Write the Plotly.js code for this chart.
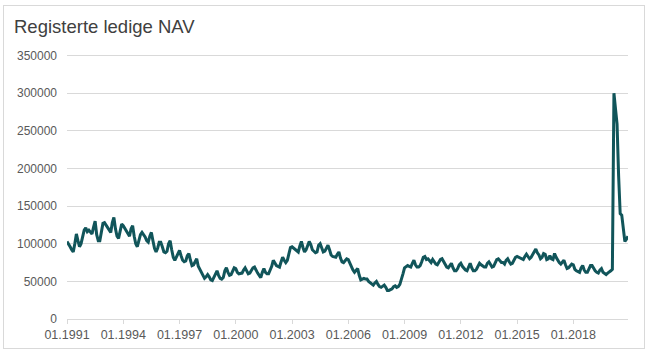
<!DOCTYPE html>
<html>
<head>
<meta charset="utf-8">
<script src="https://cdn.plot.ly/plotly-3.0.1.min.js"></script>
<style>
  html, body { margin: 0; padding: 0; background: #ffffff; }
  #frame { position: absolute; left: 3px; top: 5px; width: 642px; height: 344px; border: 1px solid #d9d9d9; box-sizing: border-box; }
  #chart { position: absolute; left: 0; top: 0; width: 652px; height: 352px; }
</style>
</head>
<body>
<div id="frame"></div>
<div id="chart"></div>
<script>
// Registered unemployed (NAV), monthly, values in thousands, 01.1991 - 12.2020
const startYear = 1991;
const y1991 = [103, 100, 96, 92, 89, 100, 113, 104, 96, 100, 108, 118];
const y1992 = [121, 116, 118, 116, 113, 122, 130, 112, 104, 104, 114, 127];
const y1993 = [128, 125, 122, 118, 115, 128, 135, 120, 110, 107, 115, 126];
const y1994 = [124, 120, 118, 112, 110, 120, 124, 110, 100, 96, 104, 112];
const y1995 = [115, 112, 109, 104, 102, 110, 115, 104, 94, 89, 94, 102];
const y1996 = [102, 96, 89, 88, 90, 100, 104, 92, 82, 78, 82, 88];
const y1997 = [91, 84, 78, 76, 77, 84, 87, 78, 71, 72, 76, 80];
const y1998 = [70, 66, 62, 58, 54, 56, 59, 56, 52, 51, 55, 60];
const y1999 = [64, 58, 54, 53, 55, 64, 68, 62, 58, 59, 63, 68];
const y2000 = [67, 62, 60, 60, 61, 65, 68, 64, 60, 61, 64, 68];
const y2001 = [69, 64, 61, 58, 55, 62, 67, 62, 60, 60, 64, 70];
const y2002 = [78, 74, 71, 70, 69, 76, 82, 78, 75, 78, 86, 95];
const y2003 = [96, 94, 93, 91, 89, 97, 103, 95, 89, 92, 98, 103];
const y2004 = [99, 92, 90, 88, 89, 98, 100, 94, 89, 90, 94, 98];
const y2005 = [92, 85, 83, 82, 82, 86, 89, 81, 76, 75, 78, 80];
const y2006 = [79, 74, 69, 65, 62, 64, 67, 58, 52, 53, 54, 53];
const y2007 = [53, 50, 48, 46, 45, 48, 50, 46, 43, 42, 43, 45];
const y2008 = [42, 38, 38, 39, 40, 43, 44, 42, 43, 46, 52, 60];
const y2009 = [68, 70, 71, 70, 69, 74, 78, 72, 69, 69, 71, 76];
const y2010 = [82, 83, 79, 80, 77, 75, 79, 76, 73, 72, 75, 79];
const y2011 = [80, 76, 72, 69, 68, 72, 74, 68, 64, 64, 67, 72];
const y2012 = [74, 70, 67, 65, 64, 70, 74, 68, 64, 64, 66, 70];
const y2013 = [74, 72, 70, 69, 69, 74, 76, 72, 69, 70, 74, 79];
const y2014 = [80, 77, 75, 75, 73, 78, 80, 76, 73, 74, 78, 82];
const y2015 = [83, 82, 82, 80, 79, 83, 86, 83, 80, 82, 86, 91];
const y2016 = [93, 88, 85, 80, 82, 87, 86, 79, 80, 84, 80, 79];
const y2017 = [87, 82, 78, 75, 73, 76, 78, 72, 67, 68, 70, 73];
const y2018 = [72, 66, 64, 63, 62, 68, 71, 65, 62, 62, 66, 71];
const y2019 = [71, 67, 64, 62, 61, 65, 67, 62, 60, 59, 61, 62];
const y2020 = [64, 66, 300, 279, 259, 190, 140, 138, 121, 103, 106, 110];

const tickLabels = ["01.1991", "01.1994", "01.1997", "01.2000", "01.2003", "01.2006", "01.2009", "01.2012", "01.2015", "01.2018"];
const yTicks = [0, 50000, 100000, 150000, 200000, 250000, 300000, 350000];

const years = [y1991, y1992, y1993, y1994, y1995, y1996, y1997, y1998, y1999, y2000,
               y2001, y2002, y2003, y2004, y2005, y2006, y2007, y2008, y2009, y2010,
               y2011, y2012, y2013, y2014, y2015, y2016, y2017, y2018, y2019, y2020];

const categories = [];
const values = [];
years.forEach((arr, i) => {
  arr.forEach((v, m) => {
    categories.push(String(m + 1).padStart(2, "0") + "." + (startYear + i));
    values.push(v * 1000);
  });
});

const trace = {
  x: categories,
  y: values,
  type: "scatter",
  mode: "lines",
  line: { color: "#11555a", width: 3 },
  hoverinfo: "skip"
};

const topTick = yTicks[yTicks.length - 1];

const layout = {
  width: 652,
  height: 352,
  paper_bgcolor: "rgba(0,0,0,0)",
  plot_bgcolor: "rgba(0,0,0,0)",
  margin: { l: 67, r: 24, t: 51, b: 33 },
  showlegend: false,
  title: {
    text: "Registerte ledige NAV",
    font: { family: "Liberation Sans, Arial, sans-serif", size: 18.5, color: "#404040" },
    x: 0, xref: "paper", xanchor: "left",
    y: 1, yref: "container", yanchor: "top",
    pad: { t: 20, l: -53 }
  },
  shapes: [{
    type: "line", xref: "paper", yref: "y", layer: "below",
    x0: 0, x1: 1, y0: topTick, y1: topTick,
    line: { color: "#d9d9d9", width: 1 }
  }],
  xaxis: {
    type: "category",
    range: [0, categories.length - 1],
    tickmode: "array",
    tickvals: tickLabels,
    ticktext: tickLabels,
    ticks: "outside",
    ticklen: 4,
    tickcolor: "#d9d9d9",
    tickwidth: 1,
    showline: true,
    linecolor: "#d9d9d9",
    linewidth: 1,
    showgrid: false,
    zeroline: false,
    tickangle: 0,
    tickfont: { family: "Liberation Sans, Arial, sans-serif", size: 12.5, color: "#595959" }
  },
  yaxis: {
    range: [0, 355977],
    tickmode: "array",
    tickvals: yTicks,
    ticktext: yTicks.map(String),
    showgrid: true,
    gridcolor: "#d9d9d9",
    gridwidth: 1,
    zeroline: false,
    showline: false,
    ticks: "",
    ticklabelstandoff: 9,
    tickfont: { family: "Liberation Sans, Arial, sans-serif", size: 12, color: "#595959" }
  }
};

Plotly.newPlot("chart", [trace], layout, { staticPlot: true, displayModeBar: false });
</script>
</body>
</html>
